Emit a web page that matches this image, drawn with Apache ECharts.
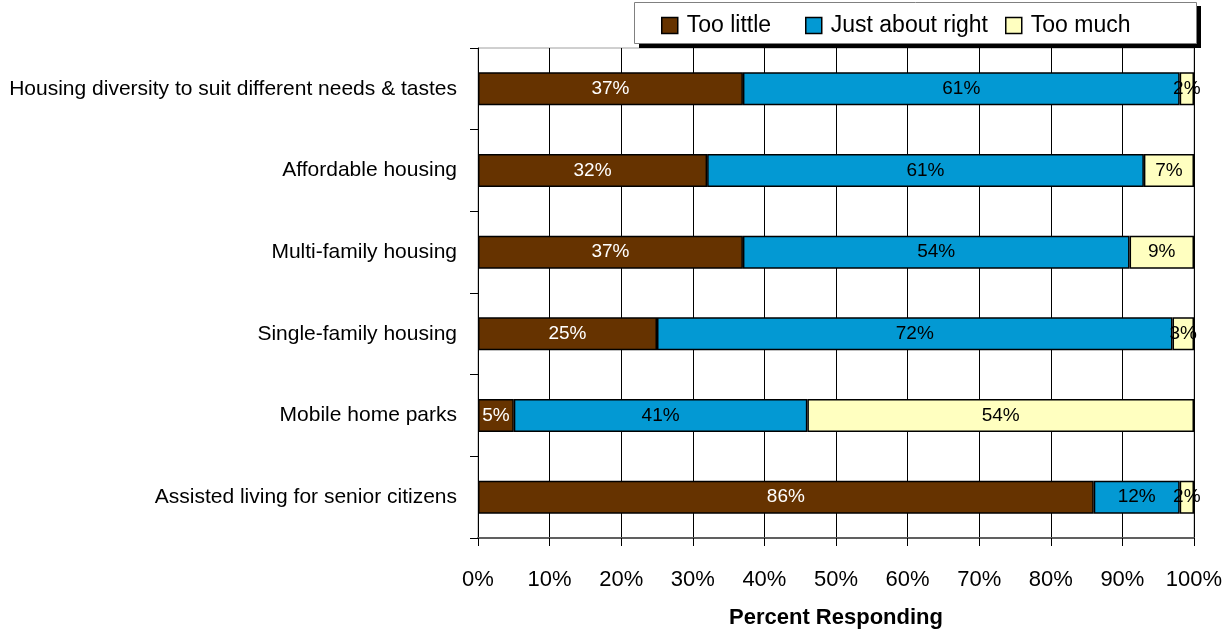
<!DOCTYPE html>
<html>
<head>
<meta charset="utf-8">
<script src="https://cdn.jsdelivr.net/npm/echarts@6/dist/echarts.min.js"></script>
<style>
  html, body { margin: 0; padding: 0; background: #fff; }
  #chart { width: 1228px; height: 634px; }
</style>
</head>
<body>
<div id="chart"></div>
<script>
// Survey categories, listed top to bottom
const categories = [
  'Housing diversity to suit different needs & tastes',
  'Affordable housing',
  'Multi-family housing',
  'Single-family housing',
  'Mobile home parks',
  'Assisted living for senior citizens'
];
const tooLittle = [37, 32, 37, 25, 5, 86];
const aboutRight = [61, 61, 54, 72, 41, 12];
const tooMuch = [2, 7, 9, 3, 54, 2];
const xTicks = [0, 10, 20, 30, 40, 50, 60, 70, 80, 90, 100];
const seriesNames = ['Too little', 'Just about right', 'Too much'];

const FONT = '"Liberation Sans", Arial, sans-serif';

function seg(name, data, color, labelColor) {
  return {
    name: name,
    type: 'bar',
    stack: 'total',
    data: data,
    barWidth: 33,
    itemStyle: { color: color, borderColor: '#000', borderWidth: 1.5 },
    label: {
      show: true,
      position: 'inside',
      formatter: '{c}%',
      color: labelColor,
      fontFamily: FONT,
      fontSize: 19
    },
    emphasis: { disabled: true }
  };
}

// one legend per entry so each item sits at its own spot in the box
const legendLefts = [661, 805, 1005];
const legends = seriesNames.map(function (name, i) {
  return {
    z: 10,
    top: 14,
    left: legendLefts[i],
    padding: 0,
    itemWidth: 16,
    itemHeight: 16,
    icon: 'rect',
    itemStyle: { borderColor: '#000', borderWidth: 1.5 },
    textStyle: { fontFamily: FONT, fontSize: 23, color: '#000', padding: [0, 0, 3, 4] },
    data: [name]
  };
});

const chart = echarts.init(document.getElementById('chart'));
chart.setOption({
  animation: false,
  backgroundColor: '#fff',
  graphic: [
    { type: 'rect', z: 0, shape: { x: 639, y: 6, width: 562, height: 42 }, style: { fill: '#000' } },
    { type: 'rect', z: 1, shape: { x: 634.5, y: 2.5, width: 562, height: 41 }, style: { fill: '#fff', stroke: '#808080', lineWidth: 1 } }
  ],
  legend: legends,
  grid: {
    left: 478,
    right: 34,
    top: 48,
    bottom: 96,
    show: true,
    borderColor: '#a0a0a0',
    borderWidth: 1
  },
  xAxis: {
    type: 'value',
    min: 0,
    max: 100,
    interval: 10,
    name: 'Percent Responding',
    nameLocation: 'middle',
    nameGap: 69,
    nameTextStyle: { fontFamily: FONT, fontSize: 22, fontWeight: 'bold', color: '#000' },
    axisLine: { show: true, lineStyle: { color: '#606060', width: 2 } },
    axisTick: { show: true, length: 8, lineStyle: { color: '#000' } },
    axisLabel: {
      margin: 31,
      fontFamily: FONT,
      fontSize: 22,
      color: '#000',
      formatter: function (v) { return xTicks.indexOf(v) >= 0 ? v + '%' : ''; }
    },
    splitLine: { show: true, lineStyle: { color: '#000', width: 1 } }
  },
  yAxis: {
    type: 'category',
    inverse: true,
    data: categories,
    axisLine: { show: true, lineStyle: { color: '#000', width: 1 } },
    axisTick: { show: true, length: 8, lineStyle: { color: '#000' } },
    axisLabel: { margin: 21, fontFamily: FONT, fontSize: 21, color: '#000' },
    splitLine: { show: false }
  },
  series: [
    seg(seriesNames[0], tooLittle, '#663300', '#fff'),
    seg(seriesNames[1], aboutRight, '#0399D3', '#000'),
    seg(seriesNames[2], tooMuch, '#FFFFC0', '#000')
  ]
});
</script>
</body>
</html>
